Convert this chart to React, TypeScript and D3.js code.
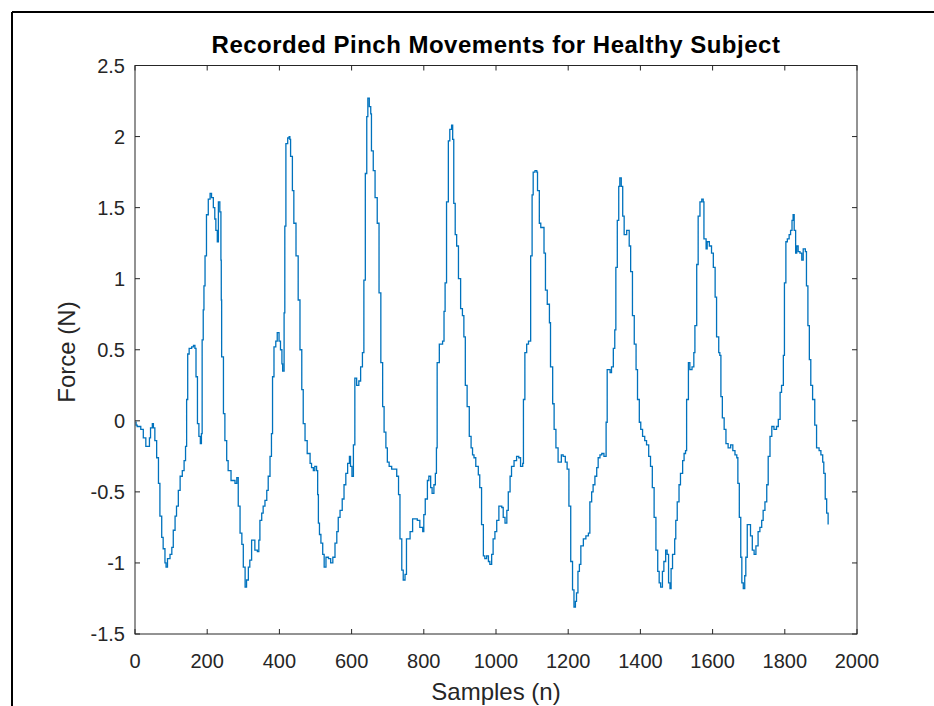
import React from "react";
import * as d3 from "d3";

const TITLE = "Recorded Pinch Movements for Healthy Subject";
const X_LABEL = "Samples (n)";
const Y_LABEL = "Force (N)";

const xTicks = [0, 200, 400, 600, 800, 1000, 1200, 1400, 1600, 1800, 2000];
const yTicks = [-1.5, -1, -0.5, 0, 0.5, 1, 1.5, 2, 2.5];
const yTickLabels = ["-1.5", "-1", "-0.5", "0", "0.5", "1", "1.5", "2", "2.5"];

const samples = [
  1, 3, 6, 12, 16, 23, 30, 34, 40, 43, 48, 51, 55, 60, 65, 69, 74, 78, 83, 86, 90, 97, 102, 106, 111, 115, 120, 125, 131, 136, 140, 143, 146, 150, 157, 162, 166, 169, 173, 177, 181, 184, 186, 189, 191, 194, 198, 203, 208, 212, 217, 221, 224, 228, 231, 235, 238, 239, 240, 245, 249, 254, 258, 266, 277, 282, 286, 291, 296, 300, 305, 309, 314, 318, 323, 328, 332, 339, 343, 346, 351, 355, 360, 365, 369, 374, 378, 381, 385, 390, 394, 399, 403, 407, 409, 413, 415, 418, 423, 427, 429, 431, 436, 440, 446, 452, 457, 462, 466, 471, 477, 485, 489, 494, 498, 503, 506, 508, 511, 515, 520, 524, 529, 536, 542, 548, 554, 559, 563, 568, 574, 579, 584, 589, 594, 597, 601, 605, 609, 614, 620, 625, 630, 634, 638, 642, 645, 649, 653, 655, 660, 665, 671, 676, 681, 686, 690, 695, 699, 704, 711, 718, 725, 730, 734, 739, 743, 748, 752, 757, 762, 769, 775, 782, 789, 797, 800, 804, 810, 814, 819, 823, 828, 832, 835, 837, 843, 847, 852, 856, 859, 863, 868, 872, 877, 880, 883, 887, 891, 896, 902, 907, 911, 915, 920, 926, 931, 935, 939, 944, 951, 955, 960, 965, 969, 974, 979, 983, 988, 992, 997, 1002, 1008, 1016, 1020, 1025, 1030, 1034, 1039, 1043, 1050, 1057, 1063, 1068, 1074, 1076, 1080, 1085, 1090, 1094, 1096, 1100, 1103, 1108, 1113, 1115, 1120, 1124, 1129, 1133, 1137, 1142, 1148, 1151, 1157, 1161, 1166, 1172, 1177, 1181, 1186, 1192, 1197, 1202, 1207, 1212, 1216, 1220, 1223, 1227, 1231, 1235, 1242, 1249, 1256, 1260, 1265, 1269, 1274, 1279, 1283, 1288, 1293, 1299, 1303, 1305, 1308, 1316, 1320, 1325, 1329, 1332, 1336, 1340, 1343, 1347, 1351, 1355, 1362, 1366, 1369, 1373, 1378, 1383, 1388, 1392, 1397, 1401, 1406, 1412, 1417, 1423, 1428, 1433, 1438, 1443, 1448, 1452, 1456, 1461, 1465, 1470, 1474, 1478, 1482, 1485, 1489, 1495, 1498, 1502, 1507, 1511, 1517, 1521, 1525, 1528, 1533, 1537, 1543, 1548, 1551, 1556, 1560, 1565, 1570, 1574, 1576, 1582, 1585, 1591, 1597, 1602, 1607, 1611, 1617, 1620, 1623, 1627, 1632, 1637, 1643, 1650, 1656, 1662, 1667, 1670, 1674, 1678, 1681, 1685, 1689, 1692, 1696, 1702, 1705, 1710, 1715, 1720, 1726, 1731, 1736, 1740, 1745, 1750, 1754, 1759, 1764, 1770, 1777, 1782, 1787, 1791, 1796, 1799, 1803, 1807, 1812, 1816, 1820, 1823, 1826, 1830, 1833, 1837, 1842, 1847, 1851, 1857, 1860, 1864, 1868, 1872, 1877, 1883, 1888, 1895, 1900, 1905, 1908, 1912, 1916, 1920,
];

const force = [
  -0.01, -0.03, -0.04, -0.04, -0.06, -0.12, -0.18, -0.18, -0.12, -0.05, -0.02, -0.05, -0.14, -0.26, -0.44, -0.67, -0.82, -0.9, -1.0, -1.03, -0.97, -0.94, -0.89, -0.77, -0.67, -0.6, -0.49, -0.39, -0.35, -0.28, -0.18, 0.15, 0.47, 0.51, 0.52, 0.53, 0.51, 0.31, -0.02, -0.11, -0.16, -0.09, 0.57, 0.78, 0.95, 1.16, 1.45, 1.56, 1.6, 1.57, 1.5, 1.42, 1.34, 1.26, 1.54, 1.47, 1.13, 0.85, 0.45, 0.05, -0.14, -0.28, -0.35, -0.42, -0.44, -0.4, -0.6, -0.79, -0.87, -1.03, -1.17, -1.12, -1.03, -0.98, -0.84, -0.84, -0.91, -0.92, -0.84, -0.7, -0.65, -0.6, -0.56, -0.49, -0.39, -0.25, -0.09, 0.31, 0.52, 0.56, 0.62, 0.56, 0.5, 0.4, 0.35, 0.76, 1.37, 1.95, 1.99, 2.0, 1.98, 1.86, 1.62, 1.39, 1.16, 0.85, 0.5, 0.22, -0.02, -0.14, -0.23, -0.3, -0.33, -0.35, -0.32, -0.35, -0.52, -0.72, -0.8, -0.86, -0.94, -1.03, -0.96, -0.97, -1.0, -0.96, -0.86, -0.78, -0.68, -0.63, -0.55, -0.45, -0.37, -0.3, -0.25, -0.32, -0.39, -0.17, 0.3, 0.25, 0.28, 0.38, 0.48, 0.99, 1.74, 2.14, 2.27, 2.21, 2.16, 1.9, 1.76, 1.57, 1.39, 0.9, 0.41, 0.1, -0.08, -0.19, -0.29, -0.32, -0.34, -0.34, -0.39, -0.52, -0.83, -1.05, -1.12, -1.08, -0.83, -0.83, -0.78, -0.69, -0.69, -0.7, -0.75, -0.78, -0.66, -0.55, -0.42, -0.39, -0.47, -0.51, -0.45, -0.37, -0.19, 0.41, 0.54, 0.54, 0.56, 0.77, 0.97, 1.54, 1.97, 2.05, 2.08, 1.98, 1.53, 1.31, 1.23, 1.0, 0.79, 0.74, 0.59, 0.25, 0.1, -0.11, -0.19, -0.24, -0.26, -0.32, -0.38, -0.47, -0.73, -0.95, -0.97, -0.95, -0.99, -1.01, -0.94, -0.83, -0.78, -0.7, -0.6, -0.61, -0.68, -0.72, -0.63, -0.5, -0.39, -0.32, -0.28, -0.25, -0.26, -0.32, -0.3, 0.15, 0.48, 0.54, 0.56, 0.56, 1.16, 1.59, 1.75, 1.76, 1.75, 1.62, 1.39, 1.36, 1.36, 1.18, 0.92, 0.82, 0.69, 0.38, 0.12, -0.06, -0.19, -0.29, -0.29, -0.24, -0.25, -0.29, -0.34, -0.6, -0.99, -1.19, -1.31, -1.27, -1.21, -1.06, -1.01, -0.88, -0.83, -0.81, -0.79, -0.57, -0.5, -0.45, -0.39, -0.33, -0.26, -0.24, -0.23, -0.25, -0.25, -0.01, 0.36, 0.34, 0.38, 0.51, 0.64, 1.08, 1.41, 1.65, 1.71, 1.65, 1.44, 1.31, 1.34, 1.34, 1.23, 1.05, 0.74, 0.54, 0.36, 0.15, -0.01, -0.06, -0.11, -0.14, -0.17, -0.25, -0.32, -0.47, -0.68, -0.91, -1.06, -1.14, -1.17, -1.06, -0.99, -0.91, -0.94, -1.14, -1.18, -1.04, -0.94, -0.83, -0.7, -0.57, -0.45, -0.37, -0.28, -0.23, -0.21, 0.15, 0.41, 0.36, 0.38, 0.48, 0.67, 1.1, 1.44, 1.54, 1.56, 1.54, 1.28, 1.21, 1.26, 1.23, 1.18, 1.08, 0.87, 0.59, 0.48, 0.46, 0.17, 0.02, -0.06, -0.16, -0.19, -0.17, -0.21, -0.24, -0.26, -0.44, -0.68, -0.96, -1.14, -1.18, -1.09, -0.96, -0.73, -0.73, -0.81, -0.91, -0.94, -0.88, -0.78, -0.75, -0.7, -0.63, -0.57, -0.45, -0.25, -0.11, -0.04, -0.06, -0.04, 0.01, 0.2, 0.25, 0.46, 0.97, 1.26, 1.28, 1.31, 1.34, 1.41, 1.45, 1.34, 1.18, 1.23, 1.19, 1.18, 1.13, 1.21, 1.19, 0.95, 0.67, 0.43, 0.25, 0.15, -0.03, -0.19, -0.21, -0.24, -0.29, -0.37, -0.55, -0.65, -0.73,
];

const W = 934;
const H = 706;
const PLOT = { left: 135, right: 857, top: 65.5, bottom: 634 };
const FONT = "'Liberation Sans', Arial, Helvetica, sans-serif";
const AX = "#262626";

export default function App() {
  const x = d3.scaleLinear().domain([0, 2000]).range([PLOT.left, PLOT.right]);
  const y = d3.scaleLinear().domain([-1.5, 2.5]).range([PLOT.bottom, PLOT.top]);
  const pts: [number, number][] = samples.map((s, i) => [s, force[i]]);
  const line = d3
    .line<[number, number]>()
    .x((d) => x(d[0]))
    .y((d) => y(d[1]))
    .curve(d3.curveStepAfter);
  const tl = 5;
  return (
    <svg
      width={W}
      height={H}
      style={{ position: "absolute", left: 0, top: 0, background: "#fff" }}
      fontFamily={FONT}
    >
      <rect x={0} y={0} width={W} height={H} fill="#fff" />
      <line x1={12} y1={12} x2={W} y2={12} stroke="#000" strokeWidth={2} />
      <line x1={12} y1={12} x2={12} y2={H} stroke="#000" strokeWidth={2} />
      <path d={line(pts) || ""} fill="none" stroke="#0072BD" strokeWidth={1.3} />
      <rect
        x={PLOT.left}
        y={PLOT.top}
        width={PLOT.right - PLOT.left}
        height={PLOT.bottom - PLOT.top}
        fill="none"
        stroke={AX}
        strokeWidth={1}
      />
      {xTicks.map((t) => (
        <g key={"x" + t}>
          <line x1={x(t)} x2={x(t)} y1={PLOT.bottom} y2={PLOT.bottom - tl} stroke={AX} />
          <line x1={x(t)} x2={x(t)} y1={PLOT.top} y2={PLOT.top + tl} stroke={AX} />
          <text x={x(t)} y={668} textAnchor="middle" fontSize={20} fill={AX}>
            {String(t)}
          </text>
        </g>
      ))}
      {yTicks.map((t, i) => (
        <g key={"y" + t}>
          <line x1={PLOT.left} x2={PLOT.left + tl} y1={y(t)} y2={y(t)} stroke={AX} />
          <line x1={PLOT.right} x2={PLOT.right - tl} y1={y(t)} y2={y(t)} stroke={AX} />
          <text x={125} y={y(t) + 7} textAnchor="end" fontSize={20} fill={AX}>
            {yTickLabels[i]}
          </text>
        </g>
      ))}
      <text
        x={496}
        y={53}
        textAnchor="middle"
        fontSize={24}
        fontWeight="bold"
        letterSpacing={0.5}
        fill="#000"
      >
        {TITLE}
      </text>
      <text x={496} y={700} textAnchor="middle" fontSize={24} fill={AX}>
        {X_LABEL}
      </text>
      <text
        transform={`translate(75,352) rotate(-90)`}
        textAnchor="middle"
        fontSize={24}
        fill={AX}
      >
        {Y_LABEL}
      </text>
    </svg>
  );
}
